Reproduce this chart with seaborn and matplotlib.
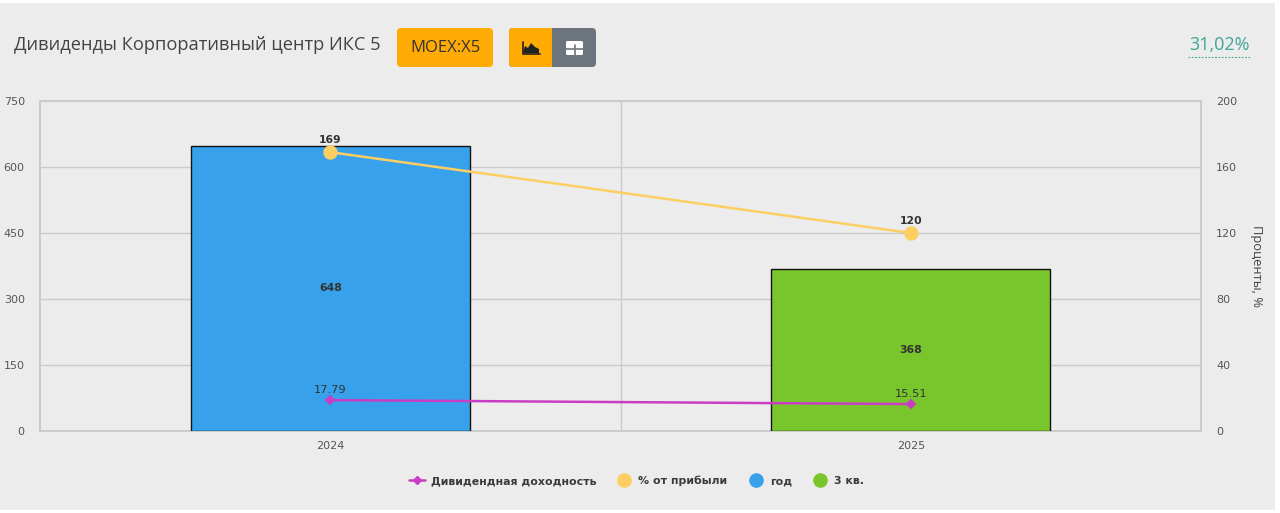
import numpy as np
import pandas as pd
import matplotlib
matplotlib.use("Agg")
import matplotlib.pyplot as plt
from matplotlib.lines import Line2D
from matplotlib.patches import FancyBboxPatch, Rectangle, Polygon
import seaborn as sns

years = ["2024", "2025"]
bar_series = ["год", "3 кв."]
bar_values = [648, 368]
payout = [169, 120]
yield_pct = [17.79, 15.51]
left_ticks = [0, 150, 300, 450, 600, 750]
right_ticks = [0, 40, 80, 120, 160, 200]

BG = "#ececec"
BLUE, GREEN = "#37a2eb", "#78c62b"
YEL, PUR = "#fdcf62", "#c93dc4"
GRID = "#cbcbcb"
TXT = "#333333"
W, H = 1280, 513
NUM = "DejaVu Sans"

sns.set_theme(style="white")
plt.rcParams["font.family"] = ["Open Sans", "DejaVu Sans"]

fig = plt.figure(figsize=(W / 100, H / 100), dpi=100, facecolor="white")
def fx(x): return x / W
def fy(y): return 1 - y / H

# panel
fig.add_artist(Rectangle((0, fy(510)), fx(1275), (510 - 3) / H, transform=fig.transFigure,
                         fc=BG, ec="none", zorder=-5))

ax = fig.add_axes([fx(40), fy(431), fx(1161), (431 - 101) / H])
ax.set_facecolor(BG)
df = pd.DataFrame({"year": years, "value": bar_values, "series": bar_series})
sns.barplot(data=df, x="year", y="value", hue="series", hue_order=bar_series,
            palette=[BLUE, GREEN], dodge=False, width=0.48, edgecolor="#111111",
            linewidth=1.0, saturation=1, legend=False, ax=ax, zorder=3)
ax.set_xlim(-0.5, 1.5)
ax.set_ylim(0, 750)
ax.set_yticks(left_ticks)
ax.set_xlabel("")
ax.set_ylabel("")
ax.grid(axis="y", color=GRID, lw=1.0, zorder=0)
ax.set_axisbelow(True)
ax.axvline(0.5, color=GRID, lw=1.0, zorder=0)
ax.tick_params(axis="x", labelsize=8, labelcolor="#555555", length=0, pad=7.5)
ax.tick_params(axis="y", labelsize=8, labelcolor="#555555", length=0, pad=11)
for lab in ax.get_xticklabels() + ax.get_yticklabels():
    lab.set_family(NUM)
for s in ax.spines.values():
    s.set_color(GRID)
    s.set_linewidth(1.4)
for i, v in enumerate(bar_values):
    ax.annotate(str(v), (i, v / 2), ha="center", va="center", fontsize=7.8, family=NUM,
                fontweight="bold", color=TXT, zorder=6)

ax2 = ax.twinx()
sns.pointplot(x=years, y=payout, color=YEL, markers="o", markersize=9, linewidth=1.8,
              errorbar=None, ax=ax2, zorder=5)
ax2.set_xlim(-0.5, 1.5)
ax2.set_ylim(0, 200)
ax2.set_yticks(right_ticks)
ax2.tick_params(axis="y", labelsize=8, labelcolor="#555555", length=0, pad=11)
for lab in ax2.get_yticklabels():
    lab.set_family(NUM)
ax2.set_xlabel("")
ax2.set_ylabel("Проценты, %", rotation=270, fontsize=9.3, color="#444444", va="center")
ax2.yaxis.set_label_coords(1.0 + 55 / 1161, 0.5)
for s in ax2.spines.values():
    s.set_visible(False)
for i, v in enumerate(payout):
    ax2.annotate(str(v), (i, v), xytext=(0, 6.5), textcoords="offset points", ha="center",
                 fontsize=7.8, family=NUM, fontweight="bold", color=TXT, zorder=7)

# the yield line has its own hidden scale in the reference
ax3 = ax.twinx()
sns.pointplot(x=years, y=yield_pct, color=PUR, markers="D", markersize=4, linewidth=1.8,
              errorbar=None, ax=ax3, zorder=5)
ax3.set_xlim(-0.5, 1.5)
ax3.set_ylim(0, 190)
ax3.axis("off")
for i, v in enumerate(yield_pct):
    ax3.annotate(str(v), (i, v), xytext=(0, 5), textcoords="offset points", ha="center",
                 fontsize=8.2, family=NUM, color=TXT, zorder=7)

# header
fig.text(fx(14), fy(45), "Дивиденды Корпоративный центр ИКС 5", fontsize=13.12, color="#444444",
         ha="left", va="center")
def box(x0, y0, x1, y1, c, r=4):
    fig.add_artist(FancyBboxPatch((x0 + r, y0 + r), x1 - x0 - 2 * r, y1 - y0 - 2 * r,
                                  boxstyle=f"round,pad={r},rounding_size={r}",
                                  transform=matplotlib.transforms.Affine2D().scale(1, -1).translate(0, H),
                                  fc=c, ec="none"))
box(397, 28, 493, 67, "#ffab03")
box(509, 28, 596, 67, "#6c757d")
box(509, 28, 552, 67, "#ffab03")
fig.add_artist(Rectangle((fx(548), fy(67)), fx(4), 39 / H, transform=fig.transFigure, fc="#ffab03", ec="none"))
fig.text(fx(445), fy(48), "MOEX:X5", fontsize=12, color="#333333", ha="center", va="center")
# chart icon
fig.add_artist(Polygon([(fx(523), fy(53)), (fx(525), fy(46)), (fx(528), fy(48)), (fx(531), fy(43)),
                        (fx(535), fy(47)), (fx(539), fy(49)), (fx(539), fy(53))],
                       transform=fig.transFigure, fc="#222222", ec="none"))
fig.add_artist(Line2D([fx(522.5), fx(522.5), fx(540)], [fy(42), fy(54), fy(54)], color="#222222", lw=1.2))
# table icon
fig.add_artist(FancyBboxPatch((566, H - 55), 17, 14, boxstyle="round,pad=0,rounding_size=1.5",
                              transform=None, fc="white", ec="none"))
fig.add_artist(Line2D([fx(566), fx(583)], [fy(49), fy(49)], color="#6c757d", lw=1.2))
fig.add_artist(Line2D([fx(574.5), fx(574.5)], [fy(45), fy(55)], color="#6c757d", lw=1.2))
fig.text(fx(1219), fy(45), "31,02%", fontsize=13, color="#3fa796", ha="center", va="center")
fig.add_artist(Line2D([fx(1188), fx(1251)], [fy(57), fy(57)], color="#3fa796", lw=0.8, ls=(0, (1.5, 1.5))))

# legend
handles = [
    Line2D([], [], color=PUR, marker="D", ms=4, lw=1.8),
    Line2D([], [], color="none", marker="o", ms=9.5, mfc=YEL, mec=YEL),
    Line2D([], [], color="none", marker="o", ms=9.5, mfc=BLUE, mec=BLUE),
    Line2D([], [], color="none", marker="o", ms=9.5, mfc=GREEN, mec=GREEN),
]
labels = ["Дивидендная доходность", "% от прибыли", "год", "3 кв."]
fig.legend(handles, labels, loc="center", bbox_to_anchor=(fx(636.5), fy(481)), ncol=4, frameon=False,
           prop={"size": 7.9, "weight": "bold", "family": "DejaVu Sans"}, labelcolor="#3a3a3a",
           handlelength=1.45, handletextpad=0.55, columnspacing=1.85)

fig.savefig("out.png", dpi=100, facecolor="white")
